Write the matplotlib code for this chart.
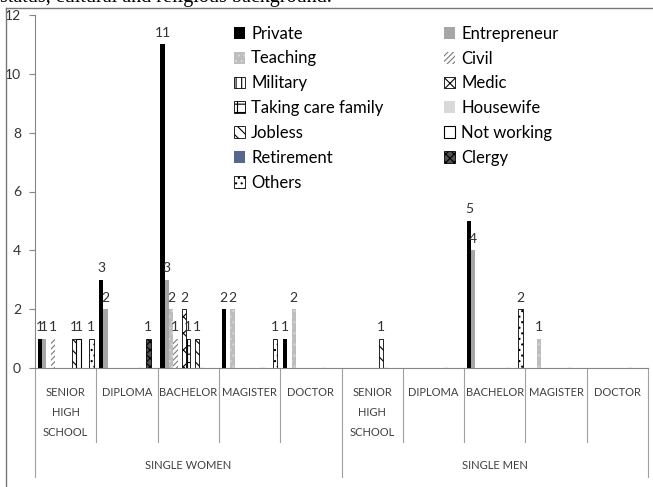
import matplotlib.pyplot as plt
import numpy as np

plt.rcParams['font.family'] = ['Lato', 'DejaVu Sans']
plt.rcParams['hatch.linewidth'] = 0.8

# categories (education level) inside the two groups
levels = ['SENIOR\nHIGH\nSCHOOL', 'DIPLOMA', 'BACHELOR', 'MAGISTER', 'DOCTOR']
groups = ['SINGLE WOMEN', 'SINGLE MEN']

# occupation series, 10 values each (5 women levels, then 5 men levels)
private      = [1, 3, 11, 2, 1, 0, 0, 5, 0, 0]
entrepreneur = [1, 2, 3, 0, 0, 0, 0, 4, 0, 0]
teaching     = [0, 0, 2, 2, 2, 0, 0, 0, 1, 0]
civil        = [1, 0, 1, 0, 0, 0, 0, 0, 0, 0]
military     = [0, 0, 0, 0, 0, 0, 0, 0, 0, 0]
medic        = [0, 0, 2, 0, 0, 0, 0, 0, 0, 0]
taking_care  = [0, 0, 1, 0, 0, 0, 0, 0, 0, 0]
housewife    = [0, 0, 0, 0, 0, 0, 0, 0, 0, 0]
jobless      = [1, 0, 1, 0, 0, 1, 0, 0, 0, 0]
not_working  = [1, 0, 0, 0, 0, 0, 0, 0, 0, 0]
retirement   = [0, 0, 0, 0, 0, 0, 0, 0, 0, 0]
clergy       = [0, 1, 0, 0, 0, 0, 0, 0, 0, 0]
others       = [1, 0, 0, 1, 0, 0, 0, 2, 0, 0]

series = [
    ('Private', private, dict(color='black')),
    ('Entrepreneur', entrepreneur, dict(color='#a6a6a6')),
    ('Teaching', teaching, dict(facecolor='#bdbdbd', edgecolor='#d8d8d8', hatch='...', linewidth=0)),
    ('Civil', civil, dict(facecolor='white', edgecolor='#7a7a7a', hatch='//////', linewidth=0)),
    ('Military', military, dict(facecolor='white', edgecolor='black', hatch='|||', linewidth=0.6)),
    ('Medic', medic, dict(facecolor='white', edgecolor='black', hatch='xx', linewidth=0.6)),
    ('Taking care family', taking_care, dict(facecolor='white', edgecolor='black', hatch='++', linewidth=0.6)),
    ('Housewife', housewife, dict(color='#d9d9d9')),
    ('Jobless', jobless, dict(facecolor='white', edgecolor='black', hatch='\\\\\\', linewidth=0.6)),
    ('Not working', not_working, dict(facecolor='white', edgecolor='black', linewidth=0.8)),
    ('Retirement', retirement, dict(color='#56668f')),
    ('Clergy', clergy, dict(facecolor='#505050', edgecolor='black', hatch='xxxx', linewidth=0.6)),
    ('Others', others, dict(facecolor='white', edgecolor='black', hatch='...', linewidth=0.6)),
]

fig = plt.figure(figsize=(6.53, 4.87), dpi=100)
ax = fig.add_axes([35 / 653, 1 - 368 / 487, 613 / 653, 353 / 487])

n_cat = 10
x = np.arange(n_cat)
width = 0.07
start = 0.045

handles = {}
for j, (name, vals, style) in enumerate(series):
    pos = x + start + j * width
    bars = ax.bar(pos, vals, width=width, align='edge', label=name, **style)
    handles[name] = bars
    for b, v in zip(bars, vals):
        if v > 0:
            ax.annotate(str(v), (b.get_x() + b.get_width() / 2, v),
                        xytext=(0, 4), textcoords='offset points',
                        ha='center', va='bottom', fontsize=10, color='#333333')

ax.set_xlim(0, n_cat)
ax.set_ylim(0, 12)
ax.set_yticks(range(0, 13, 2))
ax.set_xticks([])
ax.tick_params(axis='y', colors='#868686', labelcolor='#333333', labelsize=10,
               length=4, width=0.8, pad=6)
for s in ['top', 'right']:
    ax.spines[s].set_visible(False)
for s in ['left', 'bottom']:
    ax.spines[s].set_color('#868686')
    ax.spines[s].set_linewidth(0.8)

# multi-level category axis drawn below the plot
tr = ax.get_xaxis_transform()
for i in range(n_cat + 1):
    depth = -0.31 if i % 5 == 0 else -0.21
    ax.plot([i, i], [0, depth], transform=tr, color='#a0a0a0', lw=0.8, clip_on=False)
for i in range(n_cat):
    ax.text(i + 0.5, -0.055, levels[i % 5], transform=tr, ha='center', va='top',
            fontsize=8, color='#404040', linespacing=1.95)
for g, name in enumerate(groups):
    ax.text(g * 5 + 2.5, -0.275, name, transform=tr, ha='center', va='center',
            fontsize=8, color='#404040')

# legend filled row by row
col1 = ['Private', 'Teaching', 'Military', 'Taking care family', 'Jobless', 'Retirement', 'Others']
col2 = ['Entrepreneur', 'Civil', 'Medic', 'Housewife', 'Not working', 'Clergy']
order = col1 + col2
ax.legend([handles[n] for n in order], order, ncol=2, frameon=False,
          loc='upper left', bbox_to_anchor=(222 / 653, 1 - 14 / 487),
          bbox_transform=fig.transFigure, fontsize=12, handlelength=0.7,
          handleheight=0.7, handletextpad=0.35, labelspacing=0.53,
          columnspacing=3.6, borderpad=0.2)

# page frame and clipped caption line from the source document
fig.add_artist(plt.Line2D([6 / 653, 1], [1 - 8 / 487] * 2, color='#777777', lw=1))
fig.add_artist(plt.Line2D([6 / 653] * 2, [0, 1 - 8 / 487], color='#777777', lw=1))
fig.text(0, 1 - 2 / 487, 'status, cultural and religious background.',
         family='Liberation Serif', fontsize=14.5, va='baseline', ha='left')

fig.savefig('out.png', dpi=100)
